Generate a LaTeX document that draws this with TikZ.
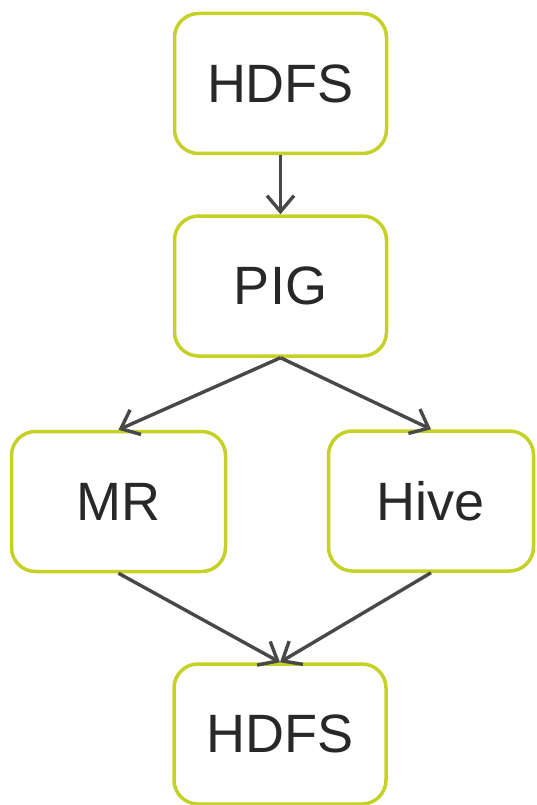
\documentclass[tikz,border=0pt]{standalone}
\usepackage{fontspec}
\setmainfont{Liberation Sans}
\usetikzlibrary{arrows.meta}
\definecolor{boxline}{RGB}{198,209,40}
\definecolor{arrowgray}{RGB}{72,72,72}
\definecolor{txtgray}{RGB}{40,40,40}
\begin{document}
\begin{tikzpicture}[x=1pt,y=-1pt,
  stagebox/.style={draw=boxline, line width=3.5pt, rounded corners=24pt, fill=white,
    minimum width=212pt, minimum height=140pt, inner sep=0pt,
    text=txtgray, font=\fontsize{54}{60}\selectfont},
  flow/.style={draw=arrowgray, line width=3.4pt, -{Straight Barb[length=16pt,width=27pt,line width=3.4pt]}, shorten >=0pt}]
\useasboundingbox (0,0) rectangle (537,805);
\node[stagebox] (hdfsA) at (280.5,83.5) {HDFS};
\node[stagebox] (pig) at (280.5,286) {PIG};
\node[stagebox, minimum width=214pt] (mr) at (118.5,501.5) {MR};
\node[stagebox, minimum width=205pt] (hive) at (431,501) {Hive};
\node[stagebox] (hdfsB) at (280,734) {HDFS};
\draw[flow] (hdfsA.south) -- (pig.north);
\draw[flow] (pig.south) -- (mr.north);
\draw[flow] (pig.south) -- (hive.north);
\draw[flow] (mr.south) -- (hdfsB.north);
\draw[flow] (hive.south) -- (hdfsB.north);
\end{tikzpicture}
\end{document}
